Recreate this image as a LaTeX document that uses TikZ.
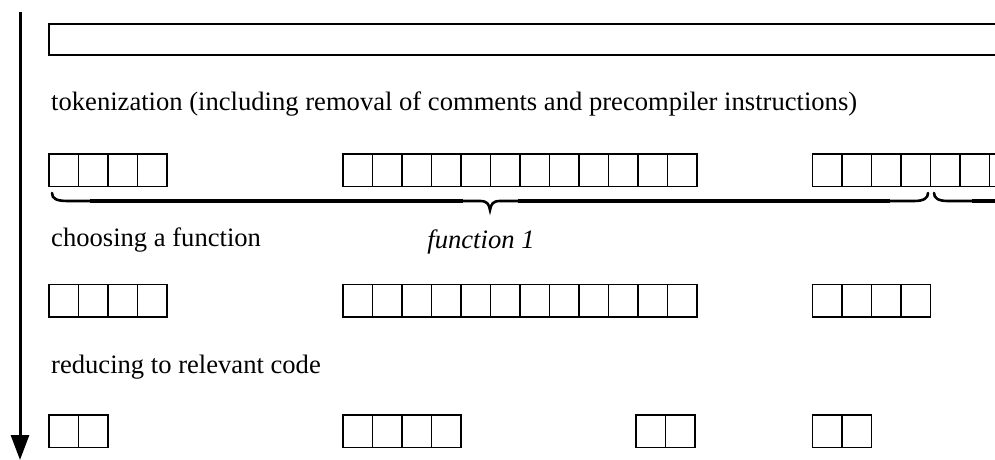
\documentclass[tikz,border=0pt]{standalone}
\usepackage{fontspec}
\setmainfont{Liberation Serif}
\usetikzlibrary{arrows.meta}

% one run of token cells: name, x, y (top), number of cells
\newcommand\cellrun[4]{%
  \node[cellbox, minimum width={#4*29.5pt}] (#1) at (#2,#3) {};
  \pgfmathtruncatemacro\lastcell{#4-1}%
  \foreach \k in {1,...,\lastcell}{%
    \draw[cellline] ([xshift=\k*29.5pt]#1.north west) -- ([xshift=\k*29.5pt]#1.south west);}%
}

\begin{document}
\begin{tikzpicture}[x=1pt,y=-1pt,
  cellline/.style={line width=1.8pt},
  cellbox/.style={draw, line width=1.8pt, inner sep=0pt, outer sep=0pt,
    minimum height=32.5pt, anchor=north west},
  txt/.style={inner sep=0pt, anchor=base west, font=\fontsize{26.6}{30}\selectfont},
  bracethick/.style={line width=4pt},
  bracethin/.style={line width=2.6pt, line cap=round},
  flow/.style={line width=3pt, -{Triangle[width=18pt,length=25pt]}}]
\useasboundingbox (0,0) rectangle (995,460);
\clip (0,0) rectangle (995,460);

% time axis
\coordinate (tstart) at (20,12);
\coordinate (tend) at (20,460);
\draw[flow] (tstart) -- (tend);

% raw source stream
\node[draw, line width=2pt, inner sep=0pt, outer sep=0pt, minimum width=980pt,
  minimum height=31pt, anchor=north west] (stream) at (49,24) {};

\node[txt] (tok) at (51,110) {tokenization (including removal of comments and precompiler instructions)};

% tokens
\cellrun{ta}{49}{154}{4}
\cellrun{tb}{343}{154}{12}
\cellrun{tc}{812.5}{154}{4}
\cellrun{td}{930.5}{154}{3}

% brace for function 1
\draw[bracethin] (52,193) .. controls (52,199) and (57,201) .. (68,201) -- (90,201);
\draw[bracethick] (90,201) -- (463,201);
\draw[bracethin] (463,201) -- (480,201) .. controls (487,201) and (489,204) .. (490,210)
  .. controls (491,204) and (493,201) .. (500,201) -- (518,201);
\draw[bracethick] (518,201) -- (890,201);
\draw[bracethin] (890,201) -- (914,201) .. controls (924,201) and (928,198) .. (928,193);
% brace for the next function
\draw[bracethin] (934,193) .. controls (934,198) and (938,201) .. (948,201) -- (972,201);
\draw[bracethick] (972,201) -- (1000,201);

\node[txt] (choose) at (51,246) {choosing a function};
\node[txt, anchor=base, font=\fontsize{26.6}{30}\selectfont\itshape] (fn1) at (481,248) {function 1};

% tokens of chosen functions
\cellrun{fa}{49}{284.5}{4}
\cellrun{fb}{343}{284.5}{12}
\cellrun{fc}{812.5}{284.5}{4}

\node[txt] (reduce) at (51,373) {reducing to relevant code};

% relevant tokens
\cellrun{ra}{49}{415}{2}
\cellrun{rb}{343}{415}{4}
\cellrun{rc}{636}{415}{2}
\cellrun{rd}{812.5}{415}{2}
\end{tikzpicture}
\end{document}
